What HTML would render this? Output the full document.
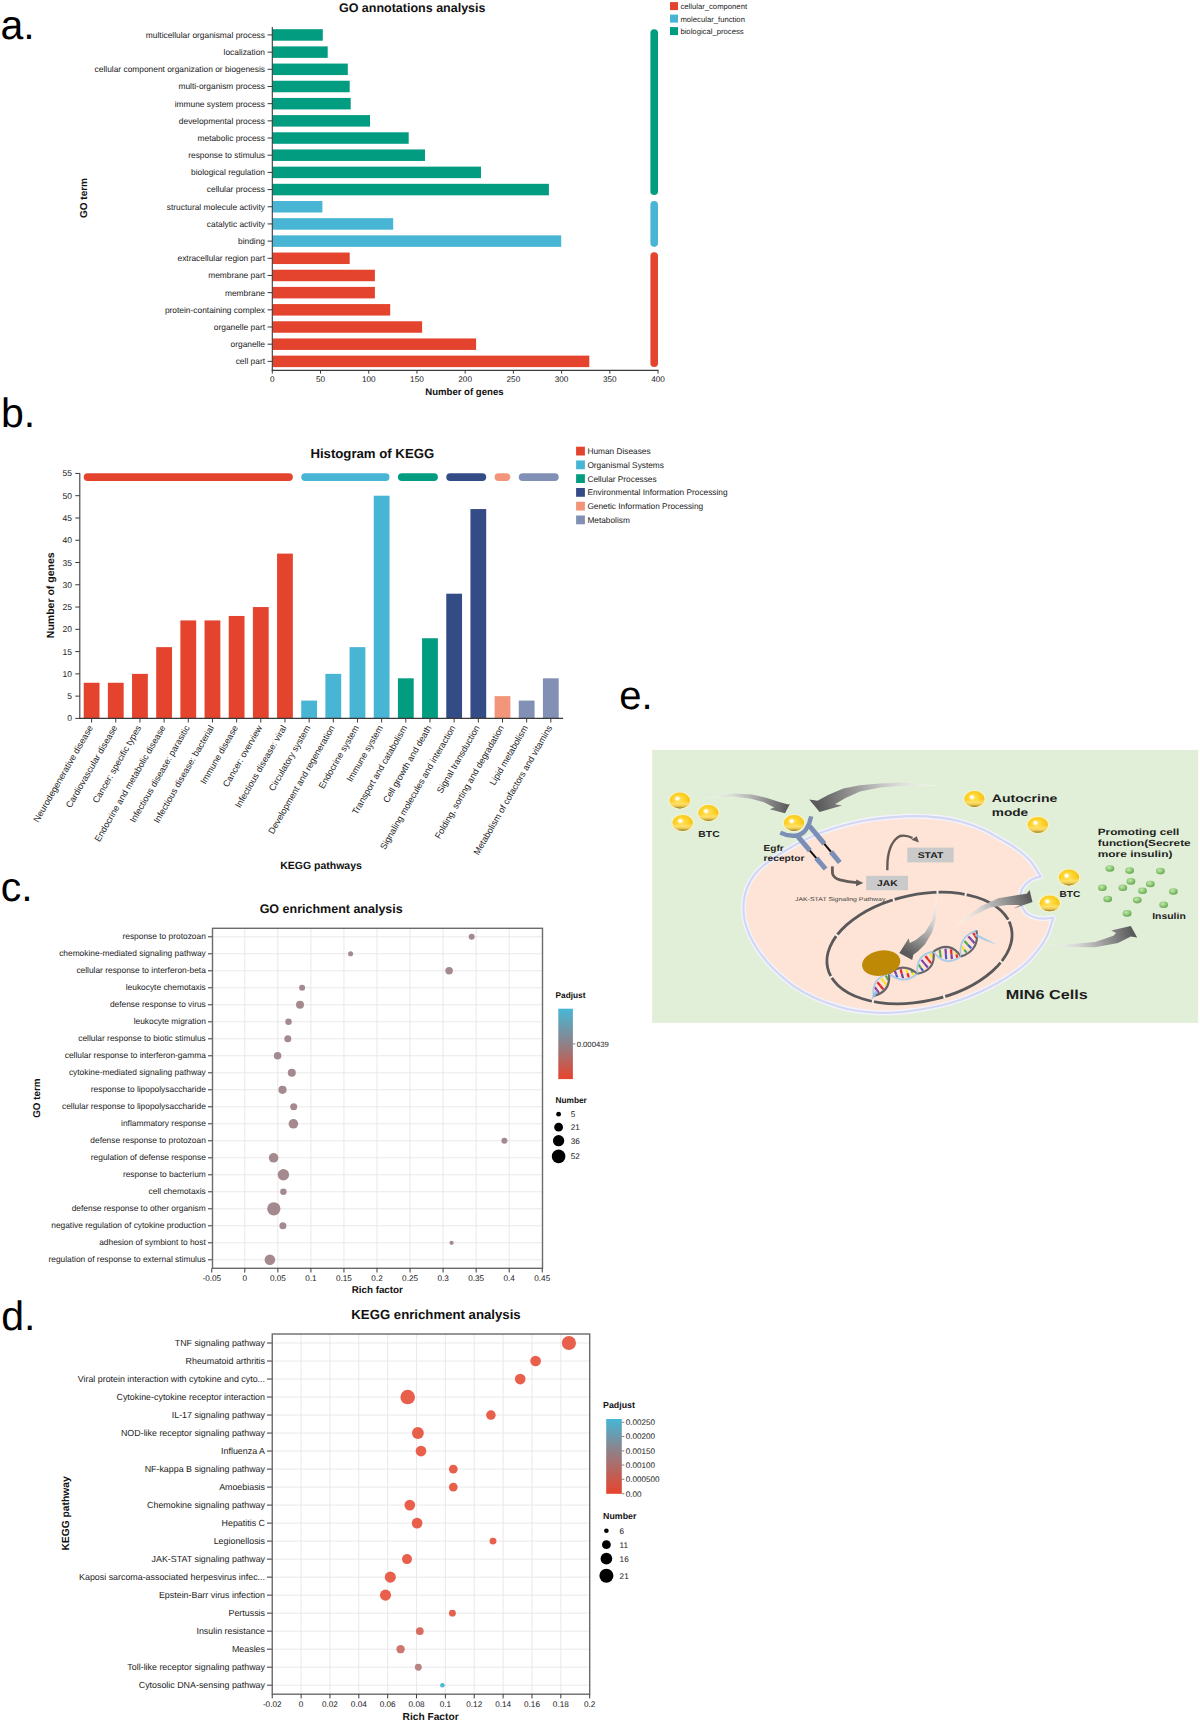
<!DOCTYPE html>
<html><head><meta charset="utf-8"><title>Figure</title>
<style>
html,body{margin:0;padding:0;background:#fff;}
body{width:1200px;height:1723px;overflow:hidden;}
svg{display:block;font-family:"Liberation Sans", sans-serif;text-rendering:geometricPrecision;}
</style></head><body>
<svg width="1200" height="1723" viewBox="0 0 1200 1723">
<rect width="1200" height="1723" fill="#fff"/>
<text x="0.40" y="39.00" font-size="41" fill="#000">a.</text>
<text x="0.90" y="426.60" font-size="41" fill="#000">b.</text>
<text x="0.80" y="901.20" font-size="41" fill="#000">c.</text>
<text x="1.30" y="1329.60" font-size="41" fill="#000">d.</text>
<text x="619.30" y="709.40" font-size="40" fill="#000">e.</text>
<rect x="272.30" y="29.20" width="50.50" height="11.50" fill="#029C80"/>
<line x1="267.60" y1="34.95" x2="272.30" y2="34.95" stroke="#3a3a3a" stroke-width="1"/>
<text x="265.00" y="37.85" font-size="8.4" text-anchor="end" fill="#222">multicellular organismal process</text>
<rect x="272.30" y="46.38" width="55.40" height="11.50" fill="#029C80"/>
<line x1="267.60" y1="52.13" x2="272.30" y2="52.13" stroke="#3a3a3a" stroke-width="1"/>
<text x="265.00" y="55.03" font-size="8.4" text-anchor="end" fill="#222">localization</text>
<rect x="272.30" y="63.56" width="75.50" height="11.50" fill="#029C80"/>
<line x1="267.60" y1="69.31" x2="272.30" y2="69.31" stroke="#3a3a3a" stroke-width="1"/>
<text x="265.00" y="72.21" font-size="8.4" text-anchor="end" fill="#222">cellular component organization or biogenesis</text>
<rect x="272.30" y="80.74" width="77.40" height="11.50" fill="#029C80"/>
<line x1="267.60" y1="86.49" x2="272.30" y2="86.49" stroke="#3a3a3a" stroke-width="1"/>
<text x="265.00" y="89.39" font-size="8.4" text-anchor="end" fill="#222">multi-organism process</text>
<rect x="272.30" y="97.92" width="78.40" height="11.50" fill="#029C80"/>
<line x1="267.60" y1="103.67" x2="272.30" y2="103.67" stroke="#3a3a3a" stroke-width="1"/>
<text x="265.00" y="106.57" font-size="8.4" text-anchor="end" fill="#222">immune system process</text>
<rect x="272.30" y="115.10" width="97.70" height="11.50" fill="#029C80"/>
<line x1="267.60" y1="120.85" x2="272.30" y2="120.85" stroke="#3a3a3a" stroke-width="1"/>
<text x="265.00" y="123.75" font-size="8.4" text-anchor="end" fill="#222">developmental process</text>
<rect x="272.30" y="132.28" width="136.40" height="11.50" fill="#029C80"/>
<line x1="267.60" y1="138.03" x2="272.30" y2="138.03" stroke="#3a3a3a" stroke-width="1"/>
<text x="265.00" y="140.93" font-size="8.4" text-anchor="end" fill="#222">metabolic process</text>
<rect x="272.30" y="149.46" width="152.70" height="11.50" fill="#029C80"/>
<line x1="267.60" y1="155.21" x2="272.30" y2="155.21" stroke="#3a3a3a" stroke-width="1"/>
<text x="265.00" y="158.11" font-size="8.4" text-anchor="end" fill="#222">response to stimulus</text>
<rect x="272.30" y="166.64" width="208.70" height="11.50" fill="#029C80"/>
<line x1="267.60" y1="172.39" x2="272.30" y2="172.39" stroke="#3a3a3a" stroke-width="1"/>
<text x="265.00" y="175.29" font-size="8.4" text-anchor="end" fill="#222">biological regulation</text>
<rect x="272.30" y="183.82" width="276.60" height="11.50" fill="#029C80"/>
<line x1="267.60" y1="189.57" x2="272.30" y2="189.57" stroke="#3a3a3a" stroke-width="1"/>
<text x="265.00" y="192.47" font-size="8.4" text-anchor="end" fill="#222">cellular process</text>
<rect x="272.30" y="201.00" width="50.10" height="11.50" fill="#48B5D5"/>
<line x1="267.60" y1="206.75" x2="272.30" y2="206.75" stroke="#3a3a3a" stroke-width="1"/>
<text x="265.00" y="209.65" font-size="8.4" text-anchor="end" fill="#222">structural molecule activity</text>
<rect x="272.30" y="218.18" width="120.90" height="11.50" fill="#48B5D5"/>
<line x1="267.60" y1="223.93" x2="272.30" y2="223.93" stroke="#3a3a3a" stroke-width="1"/>
<text x="265.00" y="226.83" font-size="8.4" text-anchor="end" fill="#222">catalytic activity</text>
<rect x="272.30" y="235.36" width="288.90" height="11.50" fill="#48B5D5"/>
<line x1="267.60" y1="241.11" x2="272.30" y2="241.11" stroke="#3a3a3a" stroke-width="1"/>
<text x="265.00" y="244.01" font-size="8.4" text-anchor="end" fill="#222">binding</text>
<rect x="272.30" y="252.54" width="77.40" height="11.50" fill="#E4432E"/>
<line x1="267.60" y1="258.29" x2="272.30" y2="258.29" stroke="#3a3a3a" stroke-width="1"/>
<text x="265.00" y="261.19" font-size="8.4" text-anchor="end" fill="#222">extracellular region part</text>
<rect x="272.30" y="269.72" width="102.60" height="11.50" fill="#E4432E"/>
<line x1="267.60" y1="275.47" x2="272.30" y2="275.47" stroke="#3a3a3a" stroke-width="1"/>
<text x="265.00" y="278.37" font-size="8.4" text-anchor="end" fill="#222">membrane part</text>
<rect x="272.30" y="286.90" width="102.60" height="11.50" fill="#E4432E"/>
<line x1="267.60" y1="292.65" x2="272.30" y2="292.65" stroke="#3a3a3a" stroke-width="1"/>
<text x="265.00" y="295.55" font-size="8.4" text-anchor="end" fill="#222">membrane</text>
<rect x="272.30" y="304.08" width="117.90" height="11.50" fill="#E4432E"/>
<line x1="267.60" y1="309.83" x2="272.30" y2="309.83" stroke="#3a3a3a" stroke-width="1"/>
<text x="265.00" y="312.73" font-size="8.4" text-anchor="end" fill="#222">protein-containing complex</text>
<rect x="272.30" y="321.26" width="149.80" height="11.50" fill="#E4432E"/>
<line x1="267.60" y1="327.01" x2="272.30" y2="327.01" stroke="#3a3a3a" stroke-width="1"/>
<text x="265.00" y="329.91" font-size="8.4" text-anchor="end" fill="#222">organelle part</text>
<rect x="272.30" y="338.44" width="203.80" height="11.50" fill="#E4432E"/>
<line x1="267.60" y1="344.19" x2="272.30" y2="344.19" stroke="#3a3a3a" stroke-width="1"/>
<text x="265.00" y="347.09" font-size="8.4" text-anchor="end" fill="#222">organelle</text>
<rect x="272.30" y="355.62" width="317.00" height="11.50" fill="#E4432E"/>
<line x1="267.60" y1="361.37" x2="272.30" y2="361.37" stroke="#3a3a3a" stroke-width="1"/>
<text x="265.00" y="364.27" font-size="8.4" text-anchor="end" fill="#222">cell part</text>
<line x1="272.30" y1="27.00" x2="272.30" y2="370.90" stroke="#3a3a3a" stroke-width="1.1"/>
<line x1="271.80" y1="370.40" x2="658.50" y2="370.40" stroke="#3a3a3a" stroke-width="1.1"/>
<line x1="272.30" y1="370.40" x2="272.30" y2="373.60" stroke="#3a3a3a" stroke-width="1"/>
<text x="272.30" y="382.10" font-size="8.2" text-anchor="middle" fill="#222">0</text>
<line x1="320.51" y1="370.40" x2="320.51" y2="373.60" stroke="#3a3a3a" stroke-width="1"/>
<text x="320.51" y="382.10" font-size="8.2" text-anchor="middle" fill="#222">50</text>
<line x1="368.73" y1="370.40" x2="368.73" y2="373.60" stroke="#3a3a3a" stroke-width="1"/>
<text x="368.73" y="382.10" font-size="8.2" text-anchor="middle" fill="#222">100</text>
<line x1="416.95" y1="370.40" x2="416.95" y2="373.60" stroke="#3a3a3a" stroke-width="1"/>
<text x="416.95" y="382.10" font-size="8.2" text-anchor="middle" fill="#222">150</text>
<line x1="465.16" y1="370.40" x2="465.16" y2="373.60" stroke="#3a3a3a" stroke-width="1"/>
<text x="465.16" y="382.10" font-size="8.2" text-anchor="middle" fill="#222">200</text>
<line x1="513.38" y1="370.40" x2="513.38" y2="373.60" stroke="#3a3a3a" stroke-width="1"/>
<text x="513.38" y="382.10" font-size="8.2" text-anchor="middle" fill="#222">250</text>
<line x1="561.59" y1="370.40" x2="561.59" y2="373.60" stroke="#3a3a3a" stroke-width="1"/>
<text x="561.59" y="382.10" font-size="8.2" text-anchor="middle" fill="#222">300</text>
<line x1="609.81" y1="370.40" x2="609.81" y2="373.60" stroke="#3a3a3a" stroke-width="1"/>
<text x="609.81" y="382.10" font-size="8.2" text-anchor="middle" fill="#222">350</text>
<line x1="658.02" y1="370.40" x2="658.02" y2="373.60" stroke="#3a3a3a" stroke-width="1"/>
<text x="658.02" y="382.10" font-size="8.2" text-anchor="middle" fill="#222">400</text>
<rect x="650.40" y="29.20" width="7.60" height="165.90" fill="#029C80" rx="3.8"/>
<rect x="650.40" y="200.90" width="7.60" height="46.00" fill="#48B5D5" rx="3.8"/>
<rect x="650.40" y="252.20" width="7.60" height="114.80" fill="#E4432E" rx="3.8"/>
<rect x="670.00" y="2.10" width="8.00" height="8.00" fill="#E4432E"/>
<text x="680.40" y="9.00" font-size="7.7" fill="#222">cellular_component</text>
<rect x="670.00" y="14.60" width="8.00" height="8.00" fill="#48B5D5"/>
<text x="680.40" y="21.50" font-size="7.7" fill="#222">molecular_function</text>
<rect x="670.00" y="27.10" width="8.00" height="8.00" fill="#029C80"/>
<text x="680.40" y="34.00" font-size="7.7" fill="#222">biological_process</text>
<text x="412.20" y="12.00" font-size="12.5" text-anchor="middle" font-weight="bold" fill="#111">GO annotations analysis</text>
<text x="87.20" y="198.00" font-size="10.0" text-anchor="middle" font-weight="bold" fill="#111" transform="rotate(-90 87.20 198.00)">GO term</text>
<text x="464.40" y="394.50" font-size="9.6" text-anchor="middle" font-weight="bold" fill="#111">Number of genes</text>
<rect x="83.70" y="682.77" width="15.80" height="35.63" fill="#E4432E"/>
<line x1="91.60" y1="718.40" x2="91.60" y2="722.50" stroke="#3a3a3a" stroke-width="1"/>
<text x="93.30" y="727.60" font-size="9.0" text-anchor="end" fill="#222" transform="rotate(-60 93.30 727.60)">Neurodegenerative disease</text>
<rect x="107.87" y="682.77" width="15.80" height="35.63" fill="#E4432E"/>
<line x1="115.77" y1="718.40" x2="115.77" y2="722.50" stroke="#3a3a3a" stroke-width="1"/>
<text x="117.47" y="727.60" font-size="9.0" text-anchor="end" fill="#222" transform="rotate(-60 117.47 727.60)">Cardiovascular disease</text>
<rect x="132.04" y="673.86" width="15.80" height="44.54" fill="#E4432E"/>
<line x1="139.94" y1="718.40" x2="139.94" y2="722.50" stroke="#3a3a3a" stroke-width="1"/>
<text x="141.64" y="727.60" font-size="9.0" text-anchor="end" fill="#222" transform="rotate(-60 141.64 727.60)">Cancer: specific types</text>
<rect x="156.21" y="647.14" width="15.80" height="71.26" fill="#E4432E"/>
<line x1="164.11" y1="718.40" x2="164.11" y2="722.50" stroke="#3a3a3a" stroke-width="1"/>
<text x="165.81" y="727.60" font-size="9.0" text-anchor="end" fill="#222" transform="rotate(-60 165.81 727.60)">Endocrine and metabolic disease</text>
<rect x="180.38" y="620.41" width="15.80" height="97.99" fill="#E4432E"/>
<line x1="188.28" y1="718.40" x2="188.28" y2="722.50" stroke="#3a3a3a" stroke-width="1"/>
<text x="189.98" y="727.60" font-size="9.0" text-anchor="end" fill="#222" transform="rotate(-60 189.98 727.60)">Infectious disease: parasitic</text>
<rect x="204.55" y="620.41" width="15.80" height="97.99" fill="#E4432E"/>
<line x1="212.45" y1="718.40" x2="212.45" y2="722.50" stroke="#3a3a3a" stroke-width="1"/>
<text x="214.15" y="727.60" font-size="9.0" text-anchor="end" fill="#222" transform="rotate(-60 214.15 727.60)">Infectious disease: bacterial</text>
<rect x="228.72" y="615.96" width="15.80" height="102.44" fill="#E4432E"/>
<line x1="236.62" y1="718.40" x2="236.62" y2="722.50" stroke="#3a3a3a" stroke-width="1"/>
<text x="238.32" y="727.60" font-size="9.0" text-anchor="end" fill="#222" transform="rotate(-60 238.32 727.60)">Immune disease</text>
<rect x="252.89" y="607.05" width="15.80" height="111.35" fill="#E4432E"/>
<line x1="260.79" y1="718.40" x2="260.79" y2="722.50" stroke="#3a3a3a" stroke-width="1"/>
<text x="262.49" y="727.60" font-size="9.0" text-anchor="end" fill="#222" transform="rotate(-60 262.49 727.60)">Cancer: overview</text>
<rect x="277.06" y="553.60" width="15.80" height="164.80" fill="#E4432E"/>
<line x1="284.96" y1="718.40" x2="284.96" y2="722.50" stroke="#3a3a3a" stroke-width="1"/>
<text x="286.66" y="727.60" font-size="9.0" text-anchor="end" fill="#222" transform="rotate(-60 286.66 727.60)">Infectious disease: viral</text>
<rect x="301.23" y="700.58" width="15.80" height="17.82" fill="#48B5D5"/>
<line x1="309.13" y1="718.40" x2="309.13" y2="722.50" stroke="#3a3a3a" stroke-width="1"/>
<text x="310.83" y="727.60" font-size="9.0" text-anchor="end" fill="#222" transform="rotate(-60 310.83 727.60)">Circulatory system</text>
<rect x="325.40" y="673.86" width="15.80" height="44.54" fill="#48B5D5"/>
<line x1="333.30" y1="718.40" x2="333.30" y2="722.50" stroke="#3a3a3a" stroke-width="1"/>
<text x="335.00" y="727.60" font-size="9.0" text-anchor="end" fill="#222" transform="rotate(-60 335.00 727.60)">Development and regeneration</text>
<rect x="349.57" y="647.14" width="15.80" height="71.26" fill="#48B5D5"/>
<line x1="357.47" y1="718.40" x2="357.47" y2="722.50" stroke="#3a3a3a" stroke-width="1"/>
<text x="359.17" y="727.60" font-size="9.0" text-anchor="end" fill="#222" transform="rotate(-60 359.17 727.60)">Endocrine system</text>
<rect x="373.74" y="495.70" width="15.80" height="222.70" fill="#48B5D5"/>
<line x1="381.64" y1="718.40" x2="381.64" y2="722.50" stroke="#3a3a3a" stroke-width="1"/>
<text x="383.34" y="727.60" font-size="9.0" text-anchor="end" fill="#222" transform="rotate(-60 383.34 727.60)">Immune system</text>
<rect x="397.91" y="678.31" width="15.80" height="40.09" fill="#029C80"/>
<line x1="405.81" y1="718.40" x2="405.81" y2="722.50" stroke="#3a3a3a" stroke-width="1"/>
<text x="407.51" y="727.60" font-size="9.0" text-anchor="end" fill="#222" transform="rotate(-60 407.51 727.60)">Transport and catabolism</text>
<rect x="422.08" y="638.23" width="15.80" height="80.17" fill="#029C80"/>
<line x1="429.98" y1="718.40" x2="429.98" y2="722.50" stroke="#3a3a3a" stroke-width="1"/>
<text x="431.68" y="727.60" font-size="9.0" text-anchor="end" fill="#222" transform="rotate(-60 431.68 727.60)">Cell growth and death</text>
<rect x="446.25" y="593.69" width="15.80" height="124.71" fill="#344C86"/>
<line x1="454.15" y1="718.40" x2="454.15" y2="722.50" stroke="#3a3a3a" stroke-width="1"/>
<text x="455.85" y="727.60" font-size="9.0" text-anchor="end" fill="#222" transform="rotate(-60 455.85 727.60)">Signaling molecules and interaction</text>
<rect x="470.42" y="509.06" width="15.80" height="209.34" fill="#344C86"/>
<line x1="478.32" y1="718.40" x2="478.32" y2="722.50" stroke="#3a3a3a" stroke-width="1"/>
<text x="480.02" y="727.60" font-size="9.0" text-anchor="end" fill="#222" transform="rotate(-60 480.02 727.60)">Signal transduction</text>
<rect x="494.59" y="696.13" width="15.80" height="22.27" fill="#F2957A"/>
<line x1="502.49" y1="718.40" x2="502.49" y2="722.50" stroke="#3a3a3a" stroke-width="1"/>
<text x="504.19" y="727.60" font-size="9.0" text-anchor="end" fill="#222" transform="rotate(-60 504.19 727.60)">Folding, sorting and degradation</text>
<rect x="518.76" y="700.58" width="15.80" height="17.82" fill="#8190B4"/>
<line x1="526.66" y1="718.40" x2="526.66" y2="722.50" stroke="#3a3a3a" stroke-width="1"/>
<text x="528.36" y="727.60" font-size="9.0" text-anchor="end" fill="#222" transform="rotate(-60 528.36 727.60)">Lipid metabolism</text>
<rect x="542.93" y="678.31" width="15.80" height="40.09" fill="#8190B4"/>
<line x1="550.83" y1="718.40" x2="550.83" y2="722.50" stroke="#3a3a3a" stroke-width="1"/>
<text x="552.53" y="727.60" font-size="9.0" text-anchor="end" fill="#222" transform="rotate(-60 552.53 727.60)">Metabolism of cofactors and vitamins</text>
<line x1="79.80" y1="473.30" x2="79.80" y2="718.90" stroke="#3a3a3a" stroke-width="1.1"/>
<line x1="79.30" y1="718.40" x2="563.10" y2="718.40" stroke="#3a3a3a" stroke-width="1.1"/>
<line x1="75.30" y1="718.40" x2="79.80" y2="718.40" stroke="#3a3a3a" stroke-width="1"/>
<text x="72.00" y="721.40" font-size="8.5" text-anchor="end" fill="#222">0</text>
<line x1="75.30" y1="696.13" x2="79.80" y2="696.13" stroke="#3a3a3a" stroke-width="1"/>
<text x="72.00" y="699.13" font-size="8.5" text-anchor="end" fill="#222">5</text>
<line x1="75.30" y1="673.86" x2="79.80" y2="673.86" stroke="#3a3a3a" stroke-width="1"/>
<text x="72.00" y="676.86" font-size="8.5" text-anchor="end" fill="#222">10</text>
<line x1="75.30" y1="651.59" x2="79.80" y2="651.59" stroke="#3a3a3a" stroke-width="1"/>
<text x="72.00" y="654.59" font-size="8.5" text-anchor="end" fill="#222">15</text>
<line x1="75.30" y1="629.32" x2="79.80" y2="629.32" stroke="#3a3a3a" stroke-width="1"/>
<text x="72.00" y="632.32" font-size="8.5" text-anchor="end" fill="#222">20</text>
<line x1="75.30" y1="607.05" x2="79.80" y2="607.05" stroke="#3a3a3a" stroke-width="1"/>
<text x="72.00" y="610.05" font-size="8.5" text-anchor="end" fill="#222">25</text>
<line x1="75.30" y1="584.78" x2="79.80" y2="584.78" stroke="#3a3a3a" stroke-width="1"/>
<text x="72.00" y="587.78" font-size="8.5" text-anchor="end" fill="#222">30</text>
<line x1="75.30" y1="562.51" x2="79.80" y2="562.51" stroke="#3a3a3a" stroke-width="1"/>
<text x="72.00" y="565.51" font-size="8.5" text-anchor="end" fill="#222">35</text>
<line x1="75.30" y1="540.24" x2="79.80" y2="540.24" stroke="#3a3a3a" stroke-width="1"/>
<text x="72.00" y="543.24" font-size="8.5" text-anchor="end" fill="#222">40</text>
<line x1="75.30" y1="517.97" x2="79.80" y2="517.97" stroke="#3a3a3a" stroke-width="1"/>
<text x="72.00" y="520.97" font-size="8.5" text-anchor="end" fill="#222">45</text>
<line x1="75.30" y1="495.70" x2="79.80" y2="495.70" stroke="#3a3a3a" stroke-width="1"/>
<text x="72.00" y="498.70" font-size="8.5" text-anchor="end" fill="#222">50</text>
<line x1="75.30" y1="473.43" x2="79.80" y2="473.43" stroke="#3a3a3a" stroke-width="1"/>
<text x="72.00" y="476.43" font-size="8.5" text-anchor="end" fill="#222">55</text>
<rect x="83.70" y="473.20" width="209.16" height="7.80" fill="#E4432E" rx="3.9"/>
<rect x="301.23" y="473.20" width="88.31" height="7.80" fill="#48B5D5" rx="3.9"/>
<rect x="397.91" y="473.20" width="39.97" height="7.80" fill="#029C80" rx="3.9"/>
<rect x="446.25" y="473.20" width="39.97" height="7.80" fill="#344C86" rx="3.9"/>
<rect x="494.59" y="473.20" width="15.80" height="7.80" fill="#F2957A" rx="3.9"/>
<rect x="518.76" y="473.20" width="39.97" height="7.80" fill="#8190B4" rx="3.9"/>
<rect x="576.10" y="446.70" width="8.80" height="8.80" fill="#E4432E"/>
<text x="587.40" y="454.00" font-size="8.3" fill="#222">Human Diseases</text>
<rect x="576.10" y="460.46" width="8.80" height="8.80" fill="#48B5D5"/>
<text x="587.40" y="467.76" font-size="8.3" fill="#222">Organismal Systems</text>
<rect x="576.10" y="474.22" width="8.80" height="8.80" fill="#029C80"/>
<text x="587.40" y="481.52" font-size="8.3" fill="#222">Cellular Processes</text>
<rect x="576.10" y="487.98" width="8.80" height="8.80" fill="#344C86"/>
<text x="587.40" y="495.28" font-size="8.3" fill="#222">Environmental Information Processing</text>
<rect x="576.10" y="501.74" width="8.80" height="8.80" fill="#F2957A"/>
<text x="587.40" y="509.04" font-size="8.3" fill="#222">Genetic Information Processing</text>
<rect x="576.10" y="515.50" width="8.80" height="8.80" fill="#8190B4"/>
<text x="587.40" y="522.80" font-size="8.3" fill="#222">Metabolism</text>
<text x="372.30" y="457.50" font-size="13.2" text-anchor="middle" font-weight="bold" fill="#111">Histogram of KEGG</text>
<text x="54.40" y="595.30" font-size="10.5" text-anchor="middle" font-weight="bold" fill="#111" transform="rotate(-90 54.40 595.30)">Number of genes</text>
<text x="321.00" y="869.30" font-size="10.5" text-anchor="middle" font-weight="bold" fill="#111">KEGG pathways</text>
<line x1="244.80" y1="928.30" x2="244.80" y2="1268.30" stroke="#E6E6E6" stroke-width="0.9"/>
<line x1="277.85" y1="928.30" x2="277.85" y2="1268.30" stroke="#E6E6E6" stroke-width="0.9"/>
<line x1="310.90" y1="928.30" x2="310.90" y2="1268.30" stroke="#E6E6E6" stroke-width="0.9"/>
<line x1="343.95" y1="928.30" x2="343.95" y2="1268.30" stroke="#E6E6E6" stroke-width="0.9"/>
<line x1="377.00" y1="928.30" x2="377.00" y2="1268.30" stroke="#E6E6E6" stroke-width="0.9"/>
<line x1="410.05" y1="928.30" x2="410.05" y2="1268.30" stroke="#E6E6E6" stroke-width="0.9"/>
<line x1="443.10" y1="928.30" x2="443.10" y2="1268.30" stroke="#E6E6E6" stroke-width="0.9"/>
<line x1="476.15" y1="928.30" x2="476.15" y2="1268.30" stroke="#E6E6E6" stroke-width="0.9"/>
<line x1="509.20" y1="928.30" x2="509.20" y2="1268.30" stroke="#E6E6E6" stroke-width="0.9"/>
<line x1="212.50" y1="936.80" x2="542.50" y2="936.80" stroke="#E6E6E6" stroke-width="0.9"/>
<line x1="212.50" y1="953.80" x2="542.50" y2="953.80" stroke="#E6E6E6" stroke-width="0.9"/>
<line x1="212.50" y1="970.80" x2="542.50" y2="970.80" stroke="#E6E6E6" stroke-width="0.9"/>
<line x1="212.50" y1="987.80" x2="542.50" y2="987.80" stroke="#E6E6E6" stroke-width="0.9"/>
<line x1="212.50" y1="1004.80" x2="542.50" y2="1004.80" stroke="#E6E6E6" stroke-width="0.9"/>
<line x1="212.50" y1="1021.80" x2="542.50" y2="1021.80" stroke="#E6E6E6" stroke-width="0.9"/>
<line x1="212.50" y1="1038.80" x2="542.50" y2="1038.80" stroke="#E6E6E6" stroke-width="0.9"/>
<line x1="212.50" y1="1055.80" x2="542.50" y2="1055.80" stroke="#E6E6E6" stroke-width="0.9"/>
<line x1="212.50" y1="1072.80" x2="542.50" y2="1072.80" stroke="#E6E6E6" stroke-width="0.9"/>
<line x1="212.50" y1="1089.80" x2="542.50" y2="1089.80" stroke="#E6E6E6" stroke-width="0.9"/>
<line x1="212.50" y1="1106.80" x2="542.50" y2="1106.80" stroke="#E6E6E6" stroke-width="0.9"/>
<line x1="212.50" y1="1123.80" x2="542.50" y2="1123.80" stroke="#E6E6E6" stroke-width="0.9"/>
<line x1="212.50" y1="1140.80" x2="542.50" y2="1140.80" stroke="#E6E6E6" stroke-width="0.9"/>
<line x1="212.50" y1="1157.80" x2="542.50" y2="1157.80" stroke="#E6E6E6" stroke-width="0.9"/>
<line x1="212.50" y1="1174.80" x2="542.50" y2="1174.80" stroke="#E6E6E6" stroke-width="0.9"/>
<line x1="212.50" y1="1191.80" x2="542.50" y2="1191.80" stroke="#E6E6E6" stroke-width="0.9"/>
<line x1="212.50" y1="1208.80" x2="542.50" y2="1208.80" stroke="#E6E6E6" stroke-width="0.9"/>
<line x1="212.50" y1="1225.80" x2="542.50" y2="1225.80" stroke="#E6E6E6" stroke-width="0.9"/>
<line x1="212.50" y1="1242.80" x2="542.50" y2="1242.80" stroke="#E6E6E6" stroke-width="0.9"/>
<line x1="212.50" y1="1259.80" x2="542.50" y2="1259.80" stroke="#E6E6E6" stroke-width="0.9"/>
<circle cx="471.70" cy="936.80" r="3.00" fill="#A48A8E"/>
<line x1="208.00" y1="936.80" x2="212.50" y2="936.80" stroke="#3a3a3a" stroke-width="1"/>
<text x="205.80" y="939.30" font-size="8.4" text-anchor="end" fill="#222">response to protozoan</text>
<circle cx="350.60" cy="953.80" r="2.55" fill="#A48A8E"/>
<line x1="208.00" y1="953.80" x2="212.50" y2="953.80" stroke="#3a3a3a" stroke-width="1"/>
<text x="205.80" y="956.30" font-size="8.4" text-anchor="end" fill="#222">chemokine-mediated signaling pathway</text>
<circle cx="449.10" cy="970.80" r="3.75" fill="#A48A8E"/>
<line x1="208.00" y1="970.80" x2="212.50" y2="970.80" stroke="#3a3a3a" stroke-width="1"/>
<text x="205.80" y="973.30" font-size="8.4" text-anchor="end" fill="#222">cellular response to interferon-beta</text>
<circle cx="302.10" cy="987.80" r="3.00" fill="#A48A8E"/>
<line x1="208.00" y1="987.80" x2="212.50" y2="987.80" stroke="#3a3a3a" stroke-width="1"/>
<text x="205.80" y="990.30" font-size="8.4" text-anchor="end" fill="#222">leukocyte chemotaxis</text>
<circle cx="300.00" cy="1004.80" r="4.00" fill="#A48A8E"/>
<line x1="208.00" y1="1004.80" x2="212.50" y2="1004.80" stroke="#3a3a3a" stroke-width="1"/>
<text x="205.80" y="1007.30" font-size="8.4" text-anchor="end" fill="#222">defense response to virus</text>
<circle cx="288.50" cy="1021.80" r="3.25" fill="#A48A8E"/>
<line x1="208.00" y1="1021.80" x2="212.50" y2="1021.80" stroke="#3a3a3a" stroke-width="1"/>
<text x="205.80" y="1024.30" font-size="8.4" text-anchor="end" fill="#222">leukocyte migration</text>
<circle cx="287.80" cy="1038.80" r="3.50" fill="#A48A8E"/>
<line x1="208.00" y1="1038.80" x2="212.50" y2="1038.80" stroke="#3a3a3a" stroke-width="1"/>
<text x="205.80" y="1041.30" font-size="8.4" text-anchor="end" fill="#222">cellular response to biotic stimulus</text>
<circle cx="277.60" cy="1055.80" r="3.75" fill="#A48A8E"/>
<line x1="208.00" y1="1055.80" x2="212.50" y2="1055.80" stroke="#3a3a3a" stroke-width="1"/>
<text x="205.80" y="1058.30" font-size="8.4" text-anchor="end" fill="#222">cellular response to interferon-gamma</text>
<circle cx="291.80" cy="1072.80" r="4.00" fill="#A48A8E"/>
<line x1="208.00" y1="1072.80" x2="212.50" y2="1072.80" stroke="#3a3a3a" stroke-width="1"/>
<text x="205.80" y="1075.30" font-size="8.4" text-anchor="end" fill="#222">cytokine-mediated signaling pathway</text>
<circle cx="282.50" cy="1089.80" r="4.10" fill="#A48A8E"/>
<line x1="208.00" y1="1089.80" x2="212.50" y2="1089.80" stroke="#3a3a3a" stroke-width="1"/>
<text x="205.80" y="1092.30" font-size="8.4" text-anchor="end" fill="#222">response to lipopolysaccharide</text>
<circle cx="293.70" cy="1106.80" r="3.50" fill="#A48A8E"/>
<line x1="208.00" y1="1106.80" x2="212.50" y2="1106.80" stroke="#3a3a3a" stroke-width="1"/>
<text x="205.80" y="1109.30" font-size="8.4" text-anchor="end" fill="#222">cellular response to lipopolysaccharide</text>
<circle cx="293.40" cy="1123.80" r="4.80" fill="#A48A8E"/>
<line x1="208.00" y1="1123.80" x2="212.50" y2="1123.80" stroke="#3a3a3a" stroke-width="1"/>
<text x="205.80" y="1126.30" font-size="8.4" text-anchor="end" fill="#222">inflammatory response</text>
<circle cx="504.40" cy="1140.80" r="3.00" fill="#A48A8E"/>
<line x1="208.00" y1="1140.80" x2="212.50" y2="1140.80" stroke="#3a3a3a" stroke-width="1"/>
<text x="205.80" y="1143.30" font-size="8.4" text-anchor="end" fill="#222">defense response to protozoan</text>
<circle cx="273.60" cy="1157.80" r="4.80" fill="#A48A8E"/>
<line x1="208.00" y1="1157.80" x2="212.50" y2="1157.80" stroke="#3a3a3a" stroke-width="1"/>
<text x="205.80" y="1160.30" font-size="8.4" text-anchor="end" fill="#222">regulation of defense response</text>
<circle cx="283.40" cy="1174.80" r="5.70" fill="#A48A8E"/>
<line x1="208.00" y1="1174.80" x2="212.50" y2="1174.80" stroke="#3a3a3a" stroke-width="1"/>
<text x="205.80" y="1177.30" font-size="8.4" text-anchor="end" fill="#222">response to bacterium</text>
<circle cx="283.40" cy="1191.80" r="3.25" fill="#A48A8E"/>
<line x1="208.00" y1="1191.80" x2="212.50" y2="1191.80" stroke="#3a3a3a" stroke-width="1"/>
<text x="205.80" y="1194.30" font-size="8.4" text-anchor="end" fill="#222">cell chemotaxis</text>
<circle cx="273.80" cy="1208.80" r="6.65" fill="#A48A8E"/>
<line x1="208.00" y1="1208.80" x2="212.50" y2="1208.80" stroke="#3a3a3a" stroke-width="1"/>
<text x="205.80" y="1211.30" font-size="8.4" text-anchor="end" fill="#222">defense response to other organism</text>
<circle cx="282.90" cy="1225.80" r="3.50" fill="#A48A8E"/>
<line x1="208.00" y1="1225.80" x2="212.50" y2="1225.80" stroke="#3a3a3a" stroke-width="1"/>
<text x="205.80" y="1228.30" font-size="8.4" text-anchor="end" fill="#222">negative regulation of cytokine production</text>
<circle cx="451.60" cy="1242.80" r="2.10" fill="#A48A8E"/>
<line x1="208.00" y1="1242.80" x2="212.50" y2="1242.80" stroke="#3a3a3a" stroke-width="1"/>
<text x="205.80" y="1245.30" font-size="8.4" text-anchor="end" fill="#222">adhesion of symbiont to host</text>
<circle cx="269.90" cy="1259.80" r="5.30" fill="#A48A8E"/>
<line x1="208.00" y1="1259.80" x2="212.50" y2="1259.80" stroke="#3a3a3a" stroke-width="1"/>
<text x="205.80" y="1262.30" font-size="8.4" text-anchor="end" fill="#222">regulation of response to external stimulus</text>
<rect x="212.5" y="928.3" width="330.0" height="340.0" fill="none" stroke="#6b6b6b" stroke-width="1.4"/>
<line x1="211.75" y1="1268.30" x2="211.75" y2="1272.50" stroke="#3a3a3a" stroke-width="1"/>
<text x="211.75" y="1280.60" font-size="8.2" text-anchor="middle" fill="#222">-0.05</text>
<line x1="244.80" y1="1268.30" x2="244.80" y2="1272.50" stroke="#3a3a3a" stroke-width="1"/>
<text x="244.80" y="1280.60" font-size="8.2" text-anchor="middle" fill="#222">0</text>
<line x1="277.85" y1="1268.30" x2="277.85" y2="1272.50" stroke="#3a3a3a" stroke-width="1"/>
<text x="277.85" y="1280.60" font-size="8.2" text-anchor="middle" fill="#222">0.05</text>
<line x1="310.90" y1="1268.30" x2="310.90" y2="1272.50" stroke="#3a3a3a" stroke-width="1"/>
<text x="310.90" y="1280.60" font-size="8.2" text-anchor="middle" fill="#222">0.1</text>
<line x1="343.95" y1="1268.30" x2="343.95" y2="1272.50" stroke="#3a3a3a" stroke-width="1"/>
<text x="343.95" y="1280.60" font-size="8.2" text-anchor="middle" fill="#222">0.15</text>
<line x1="377.00" y1="1268.30" x2="377.00" y2="1272.50" stroke="#3a3a3a" stroke-width="1"/>
<text x="377.00" y="1280.60" font-size="8.2" text-anchor="middle" fill="#222">0.2</text>
<line x1="410.05" y1="1268.30" x2="410.05" y2="1272.50" stroke="#3a3a3a" stroke-width="1"/>
<text x="410.05" y="1280.60" font-size="8.2" text-anchor="middle" fill="#222">0.25</text>
<line x1="443.10" y1="1268.30" x2="443.10" y2="1272.50" stroke="#3a3a3a" stroke-width="1"/>
<text x="443.10" y="1280.60" font-size="8.2" text-anchor="middle" fill="#222">0.3</text>
<line x1="476.15" y1="1268.30" x2="476.15" y2="1272.50" stroke="#3a3a3a" stroke-width="1"/>
<text x="476.15" y="1280.60" font-size="8.2" text-anchor="middle" fill="#222">0.35</text>
<line x1="509.20" y1="1268.30" x2="509.20" y2="1272.50" stroke="#3a3a3a" stroke-width="1"/>
<text x="509.20" y="1280.60" font-size="8.2" text-anchor="middle" fill="#222">0.4</text>
<line x1="542.25" y1="1268.30" x2="542.25" y2="1272.50" stroke="#3a3a3a" stroke-width="1"/>
<text x="542.25" y="1280.60" font-size="8.2" text-anchor="middle" fill="#222">0.45</text>
<text x="331.20" y="913.40" font-size="12.5" text-anchor="middle" font-weight="bold" fill="#111">GO enrichment analysis</text>
<text x="40.20" y="1098.10" font-size="9.9" text-anchor="middle" font-weight="bold" fill="#111" transform="rotate(-90 40.20 1098.10)">GO term</text>
<text x="377.30" y="1292.60" font-size="9.8" text-anchor="middle" font-weight="bold" fill="#111">Rich factor</text>
<text x="555.50" y="998.30" font-size="8.3" font-weight="bold" fill="#111">Padjust</text>
<defs><linearGradient id="cbar" x1="0" y1="0" x2="0" y2="1"><stop offset="0" stop-color="#46B6D6"/><stop offset="0.5" stop-color="#8E8189"/><stop offset="1" stop-color="#E8432C"/></linearGradient></defs>
<rect x="558.30" y="1008.70" width="14.60" height="70.40" fill="url(#cbar)"/>
<line x1="572.90" y1="1043.90" x2="575.40" y2="1043.90" stroke="#666" stroke-width="0.8"/>
<text x="576.70" y="1046.70" font-size="7.7" fill="#222">0.000439</text>
<text x="555.50" y="1103.10" font-size="8.3" font-weight="bold" fill="#111">Number</text>
<circle cx="558.60" cy="1114.20" r="2.40" fill="#000"/>
<text x="570.80" y="1117.20" font-size="8.2" fill="#222">5</text>
<circle cx="558.60" cy="1127.20" r="4.40" fill="#000"/>
<text x="570.80" y="1130.20" font-size="8.2" fill="#222">21</text>
<circle cx="558.60" cy="1140.70" r="5.65" fill="#000"/>
<text x="570.80" y="1143.70" font-size="8.2" fill="#222">36</text>
<circle cx="558.60" cy="1156.40" r="6.80" fill="#000"/>
<text x="570.80" y="1159.40" font-size="8.2" fill="#222">52</text>
<line x1="301.10" y1="1334.00" x2="301.10" y2="1694.20" stroke="#E6E6E6" stroke-width="0.9"/>
<line x1="329.96" y1="1334.00" x2="329.96" y2="1694.20" stroke="#E6E6E6" stroke-width="0.9"/>
<line x1="358.82" y1="1334.00" x2="358.82" y2="1694.20" stroke="#E6E6E6" stroke-width="0.9"/>
<line x1="387.68" y1="1334.00" x2="387.68" y2="1694.20" stroke="#E6E6E6" stroke-width="0.9"/>
<line x1="416.54" y1="1334.00" x2="416.54" y2="1694.20" stroke="#E6E6E6" stroke-width="0.9"/>
<line x1="445.40" y1="1334.00" x2="445.40" y2="1694.20" stroke="#E6E6E6" stroke-width="0.9"/>
<line x1="474.26" y1="1334.00" x2="474.26" y2="1694.20" stroke="#E6E6E6" stroke-width="0.9"/>
<line x1="503.12" y1="1334.00" x2="503.12" y2="1694.20" stroke="#E6E6E6" stroke-width="0.9"/>
<line x1="531.98" y1="1334.00" x2="531.98" y2="1694.20" stroke="#E6E6E6" stroke-width="0.9"/>
<line x1="560.84" y1="1334.00" x2="560.84" y2="1694.20" stroke="#E6E6E6" stroke-width="0.9"/>
<line x1="272.25" y1="1343.01" x2="589.70" y2="1343.01" stroke="#E6E6E6" stroke-width="0.9"/>
<line x1="272.25" y1="1361.02" x2="589.70" y2="1361.02" stroke="#E6E6E6" stroke-width="0.9"/>
<line x1="272.25" y1="1379.03" x2="589.70" y2="1379.03" stroke="#E6E6E6" stroke-width="0.9"/>
<line x1="272.25" y1="1397.04" x2="589.70" y2="1397.04" stroke="#E6E6E6" stroke-width="0.9"/>
<line x1="272.25" y1="1415.05" x2="589.70" y2="1415.05" stroke="#E6E6E6" stroke-width="0.9"/>
<line x1="272.25" y1="1433.06" x2="589.70" y2="1433.06" stroke="#E6E6E6" stroke-width="0.9"/>
<line x1="272.25" y1="1451.07" x2="589.70" y2="1451.07" stroke="#E6E6E6" stroke-width="0.9"/>
<line x1="272.25" y1="1469.08" x2="589.70" y2="1469.08" stroke="#E6E6E6" stroke-width="0.9"/>
<line x1="272.25" y1="1487.09" x2="589.70" y2="1487.09" stroke="#E6E6E6" stroke-width="0.9"/>
<line x1="272.25" y1="1505.10" x2="589.70" y2="1505.10" stroke="#E6E6E6" stroke-width="0.9"/>
<line x1="272.25" y1="1523.11" x2="589.70" y2="1523.11" stroke="#E6E6E6" stroke-width="0.9"/>
<line x1="272.25" y1="1541.12" x2="589.70" y2="1541.12" stroke="#E6E6E6" stroke-width="0.9"/>
<line x1="272.25" y1="1559.12" x2="589.70" y2="1559.12" stroke="#E6E6E6" stroke-width="0.9"/>
<line x1="272.25" y1="1577.13" x2="589.70" y2="1577.13" stroke="#E6E6E6" stroke-width="0.9"/>
<line x1="272.25" y1="1595.14" x2="589.70" y2="1595.14" stroke="#E6E6E6" stroke-width="0.9"/>
<line x1="272.25" y1="1613.15" x2="589.70" y2="1613.15" stroke="#E6E6E6" stroke-width="0.9"/>
<line x1="272.25" y1="1631.16" x2="589.70" y2="1631.16" stroke="#E6E6E6" stroke-width="0.9"/>
<line x1="272.25" y1="1649.17" x2="589.70" y2="1649.17" stroke="#E6E6E6" stroke-width="0.9"/>
<line x1="272.25" y1="1667.18" x2="589.70" y2="1667.18" stroke="#E6E6E6" stroke-width="0.9"/>
<line x1="272.25" y1="1685.20" x2="589.70" y2="1685.20" stroke="#E6E6E6" stroke-width="0.9"/>
<circle cx="568.90" cy="1343.01" r="7.10" fill="#E8604C"/>
<line x1="267.00" y1="1343.01" x2="272.25" y2="1343.01" stroke="#3a3a3a" stroke-width="1"/>
<text x="265.00" y="1346.11" font-size="8.9" text-anchor="end" fill="#222">TNF signaling pathway</text>
<circle cx="535.60" cy="1361.02" r="5.35" fill="#E8604C"/>
<line x1="267.00" y1="1361.02" x2="272.25" y2="1361.02" stroke="#3a3a3a" stroke-width="1"/>
<text x="265.00" y="1364.12" font-size="8.9" text-anchor="end" fill="#222">Rheumatoid arthritis</text>
<circle cx="520.20" cy="1379.03" r="5.35" fill="#E8604C"/>
<line x1="267.00" y1="1379.03" x2="272.25" y2="1379.03" stroke="#3a3a3a" stroke-width="1"/>
<text x="265.00" y="1382.12" font-size="8.9" text-anchor="end" fill="#222">Viral protein interaction with cytokine and cyto...</text>
<circle cx="407.70" cy="1397.04" r="7.30" fill="#E8604C"/>
<line x1="267.00" y1="1397.04" x2="272.25" y2="1397.04" stroke="#3a3a3a" stroke-width="1"/>
<text x="265.00" y="1400.13" font-size="8.9" text-anchor="end" fill="#222">Cytokine-cytokine receptor interaction</text>
<circle cx="490.90" cy="1415.05" r="4.80" fill="#E8604C"/>
<line x1="267.00" y1="1415.05" x2="272.25" y2="1415.05" stroke="#3a3a3a" stroke-width="1"/>
<text x="265.00" y="1418.14" font-size="8.9" text-anchor="end" fill="#222">IL-17 signaling pathway</text>
<circle cx="417.90" cy="1433.06" r="5.95" fill="#E8604C"/>
<line x1="267.00" y1="1433.06" x2="272.25" y2="1433.06" stroke="#3a3a3a" stroke-width="1"/>
<text x="265.00" y="1436.15" font-size="8.9" text-anchor="end" fill="#222">NOD-like receptor signaling pathway</text>
<circle cx="421.00" cy="1451.07" r="5.35" fill="#E8604C"/>
<line x1="267.00" y1="1451.07" x2="272.25" y2="1451.07" stroke="#3a3a3a" stroke-width="1"/>
<text x="265.00" y="1454.16" font-size="8.9" text-anchor="end" fill="#222">Influenza A</text>
<circle cx="453.30" cy="1469.08" r="4.40" fill="#E8604C"/>
<line x1="267.00" y1="1469.08" x2="272.25" y2="1469.08" stroke="#3a3a3a" stroke-width="1"/>
<text x="265.00" y="1472.17" font-size="8.9" text-anchor="end" fill="#222">NF-kappa B signaling pathway</text>
<circle cx="453.30" cy="1487.09" r="4.40" fill="#E8604C"/>
<line x1="267.00" y1="1487.09" x2="272.25" y2="1487.09" stroke="#3a3a3a" stroke-width="1"/>
<text x="265.00" y="1490.18" font-size="8.9" text-anchor="end" fill="#222">Amoebiasis</text>
<circle cx="409.80" cy="1505.10" r="5.35" fill="#E8604C"/>
<line x1="267.00" y1="1505.10" x2="272.25" y2="1505.10" stroke="#3a3a3a" stroke-width="1"/>
<text x="265.00" y="1508.19" font-size="8.9" text-anchor="end" fill="#222">Chemokine signaling pathway</text>
<circle cx="417.10" cy="1523.11" r="5.35" fill="#E8604C"/>
<line x1="267.00" y1="1523.11" x2="272.25" y2="1523.11" stroke="#3a3a3a" stroke-width="1"/>
<text x="265.00" y="1526.20" font-size="8.9" text-anchor="end" fill="#222">Hepatitis C</text>
<circle cx="493.00" cy="1541.12" r="3.45" fill="#E8604C"/>
<line x1="267.00" y1="1541.12" x2="272.25" y2="1541.12" stroke="#3a3a3a" stroke-width="1"/>
<text x="265.00" y="1544.21" font-size="8.9" text-anchor="end" fill="#222">Legionellosis</text>
<circle cx="407.00" cy="1559.12" r="5.00" fill="#E8604C"/>
<line x1="267.00" y1="1559.12" x2="272.25" y2="1559.12" stroke="#3a3a3a" stroke-width="1"/>
<text x="265.00" y="1562.22" font-size="8.9" text-anchor="end" fill="#222">JAK-STAT signaling pathway</text>
<circle cx="390.30" cy="1577.13" r="5.55" fill="#E8604C"/>
<line x1="267.00" y1="1577.13" x2="272.25" y2="1577.13" stroke="#3a3a3a" stroke-width="1"/>
<text x="265.00" y="1580.23" font-size="8.9" text-anchor="end" fill="#222">Kaposi sarcoma-associated herpesvirus infec...</text>
<circle cx="385.50" cy="1595.14" r="5.55" fill="#E8604C"/>
<line x1="267.00" y1="1595.14" x2="272.25" y2="1595.14" stroke="#3a3a3a" stroke-width="1"/>
<text x="265.00" y="1598.24" font-size="8.9" text-anchor="end" fill="#222">Epstein-Barr virus infection</text>
<circle cx="452.40" cy="1613.15" r="3.45" fill="#E4624F"/>
<line x1="267.00" y1="1613.15" x2="272.25" y2="1613.15" stroke="#3a3a3a" stroke-width="1"/>
<text x="265.00" y="1616.25" font-size="8.9" text-anchor="end" fill="#222">Pertussis</text>
<circle cx="419.80" cy="1631.16" r="3.85" fill="#D86C61"/>
<line x1="267.00" y1="1631.16" x2="272.25" y2="1631.16" stroke="#3a3a3a" stroke-width="1"/>
<text x="265.00" y="1634.26" font-size="8.9" text-anchor="end" fill="#222">Insulin resistance</text>
<circle cx="400.60" cy="1649.17" r="4.20" fill="#CD7770"/>
<line x1="267.00" y1="1649.17" x2="272.25" y2="1649.17" stroke="#3a3a3a" stroke-width="1"/>
<text x="265.00" y="1652.27" font-size="8.9" text-anchor="end" fill="#222">Measles</text>
<circle cx="418.30" cy="1667.18" r="3.45" fill="#B98484"/>
<line x1="267.00" y1="1667.18" x2="272.25" y2="1667.18" stroke="#3a3a3a" stroke-width="1"/>
<text x="265.00" y="1670.28" font-size="8.9" text-anchor="end" fill="#222">Toll-like receptor signaling pathway</text>
<circle cx="442.40" cy="1685.20" r="2.30" fill="#4CBAD6"/>
<line x1="267.00" y1="1685.20" x2="272.25" y2="1685.20" stroke="#3a3a3a" stroke-width="1"/>
<text x="265.00" y="1688.30" font-size="8.9" text-anchor="end" fill="#222">Cytosolic DNA-sensing pathway</text>
<rect x="272.25" y="1334.0" width="317.45" height="360.20" fill="none" stroke="#6b6b6b" stroke-width="1.4"/>
<line x1="272.24" y1="1694.20" x2="272.24" y2="1698.40" stroke="#3a3a3a" stroke-width="1"/>
<text x="272.24" y="1706.70" font-size="8.2" text-anchor="middle" fill="#222">-0.02</text>
<line x1="301.10" y1="1694.20" x2="301.10" y2="1698.40" stroke="#3a3a3a" stroke-width="1"/>
<text x="301.10" y="1706.70" font-size="8.2" text-anchor="middle" fill="#222">0</text>
<line x1="329.96" y1="1694.20" x2="329.96" y2="1698.40" stroke="#3a3a3a" stroke-width="1"/>
<text x="329.96" y="1706.70" font-size="8.2" text-anchor="middle" fill="#222">0.02</text>
<line x1="358.82" y1="1694.20" x2="358.82" y2="1698.40" stroke="#3a3a3a" stroke-width="1"/>
<text x="358.82" y="1706.70" font-size="8.2" text-anchor="middle" fill="#222">0.04</text>
<line x1="387.68" y1="1694.20" x2="387.68" y2="1698.40" stroke="#3a3a3a" stroke-width="1"/>
<text x="387.68" y="1706.70" font-size="8.2" text-anchor="middle" fill="#222">0.06</text>
<line x1="416.54" y1="1694.20" x2="416.54" y2="1698.40" stroke="#3a3a3a" stroke-width="1"/>
<text x="416.54" y="1706.70" font-size="8.2" text-anchor="middle" fill="#222">0.08</text>
<line x1="445.40" y1="1694.20" x2="445.40" y2="1698.40" stroke="#3a3a3a" stroke-width="1"/>
<text x="445.40" y="1706.70" font-size="8.2" text-anchor="middle" fill="#222">0.1</text>
<line x1="474.26" y1="1694.20" x2="474.26" y2="1698.40" stroke="#3a3a3a" stroke-width="1"/>
<text x="474.26" y="1706.70" font-size="8.2" text-anchor="middle" fill="#222">0.12</text>
<line x1="503.12" y1="1694.20" x2="503.12" y2="1698.40" stroke="#3a3a3a" stroke-width="1"/>
<text x="503.12" y="1706.70" font-size="8.2" text-anchor="middle" fill="#222">0.14</text>
<line x1="531.98" y1="1694.20" x2="531.98" y2="1698.40" stroke="#3a3a3a" stroke-width="1"/>
<text x="531.98" y="1706.70" font-size="8.2" text-anchor="middle" fill="#222">0.16</text>
<line x1="560.84" y1="1694.20" x2="560.84" y2="1698.40" stroke="#3a3a3a" stroke-width="1"/>
<text x="560.84" y="1706.70" font-size="8.2" text-anchor="middle" fill="#222">0.18</text>
<line x1="589.70" y1="1694.20" x2="589.70" y2="1698.40" stroke="#3a3a3a" stroke-width="1"/>
<text x="589.70" y="1706.70" font-size="8.2" text-anchor="middle" fill="#222">0.2</text>
<text x="436.00" y="1318.70" font-size="13.2" text-anchor="middle" font-weight="bold" fill="#111">KEGG enrichment analysis</text>
<text x="68.60" y="1513.40" font-size="10.3" text-anchor="middle" font-weight="bold" fill="#111" transform="rotate(-90 68.60 1513.40)">KEGG pathway</text>
<text x="430.60" y="1719.80" font-size="10.2" text-anchor="middle" font-weight="bold" fill="#111">Rich Factor</text>
<text x="603.10" y="1408.00" font-size="8.8" font-weight="bold" fill="#111">Padjust</text>
<defs><linearGradient id="dbar" x1="0" y1="0" x2="0" y2="1"><stop offset="0" stop-color="#46B6D6"/><stop offset="0.42" stop-color="#8E8189"/><stop offset="1" stop-color="#E8432C"/></linearGradient></defs>
<rect x="606.20" y="1419.00" width="15.60" height="74.80" fill="url(#dbar)"/>
<line x1="621.80" y1="1422.30" x2="624.30" y2="1422.30" stroke="#666" stroke-width="0.8"/>
<text x="625.70" y="1425.20" font-size="8.1" fill="#222">0.00250</text>
<line x1="621.80" y1="1436.50" x2="624.30" y2="1436.50" stroke="#666" stroke-width="0.8"/>
<text x="625.70" y="1439.40" font-size="8.1" fill="#222">0.00200</text>
<line x1="621.80" y1="1450.90" x2="624.30" y2="1450.90" stroke="#666" stroke-width="0.8"/>
<text x="625.70" y="1453.80" font-size="8.1" fill="#222">0.00150</text>
<line x1="621.80" y1="1465.00" x2="624.30" y2="1465.00" stroke="#666" stroke-width="0.8"/>
<text x="625.70" y="1467.90" font-size="8.1" fill="#222">0.00100</text>
<line x1="621.80" y1="1479.30" x2="624.30" y2="1479.30" stroke="#666" stroke-width="0.8"/>
<text x="625.70" y="1482.20" font-size="8.1" fill="#222">0.000500</text>
<line x1="621.80" y1="1493.70" x2="624.30" y2="1493.70" stroke="#666" stroke-width="0.8"/>
<text x="625.70" y="1496.60" font-size="8.1" fill="#222">0.00</text>
<text x="603.10" y="1519.40" font-size="8.8" font-weight="bold" fill="#111">Number</text>
<circle cx="606.40" cy="1530.70" r="2.30" fill="#000"/>
<text x="619.60" y="1533.70" font-size="8.2" fill="#222">6</text>
<circle cx="606.40" cy="1544.70" r="4.40" fill="#000"/>
<text x="619.60" y="1547.70" font-size="8.2" fill="#222">11</text>
<circle cx="606.40" cy="1558.70" r="5.85" fill="#000"/>
<text x="619.60" y="1561.70" font-size="8.2" fill="#222">16</text>
<circle cx="606.40" cy="1575.80" r="7.00" fill="#000"/>
<text x="619.60" y="1578.80" font-size="8.2" fill="#222">21</text>
<rect x="652.10" y="749.90" width="546.10" height="273.00" fill="#E2EFD8"/>
<defs>
<radialGradient id="gold" cx="0.45" cy="0.42" r="0.62">
 <stop offset="0" stop-color="#FFE46A"/><stop offset="0.45" stop-color="#FFD42A"/>
 <stop offset="0.8" stop-color="#F8C41A"/><stop offset="1" stop-color="#EDB520"/>
</radialGradient>
<linearGradient id="goldlo" x1="0" y1="0" x2="0" y2="1">
 <stop offset="0" stop-color="#FFE47A" stop-opacity="0"/><stop offset="0.5" stop-color="#FFE27A" stop-opacity="0"/>
 <stop offset="0.72" stop-color="#FFE680" stop-opacity="0.75"/><stop offset="0.86" stop-color="#E8C65A" stop-opacity="0.85"/>
 <stop offset="1" stop-color="#84772A" stop-opacity="1"/>
</linearGradient>
<radialGradient id="hl" cx="0.5" cy="0.5" r="0.5">
 <stop offset="0" stop-color="#fff" stop-opacity="1"/><stop offset="0.45" stop-color="#fff" stop-opacity="0.9"/>
 <stop offset="1" stop-color="#fff" stop-opacity="0"/>
</radialGradient>
<radialGradient id="ins" cx="0.4" cy="0.35" r="0.7">
 <stop offset="0" stop-color="#C6E6B0"/><stop offset="0.5" stop-color="#8FCB78"/><stop offset="1" stop-color="#5E9E4C"/>
</radialGradient>
<linearGradient id="ga1" gradientUnits="userSpaceOnUse" x1="704" y1="798" x2="788" y2="808"><stop offset="0" stop-color="#FFFFFF" stop-opacity="0.35"/><stop offset="0.4" stop-color="#CDCDCD" stop-opacity="0.95"/><stop offset="1" stop-color="#5A5A5A"/></linearGradient><linearGradient id="ga2" gradientUnits="userSpaceOnUse" x1="938" y1="786" x2="818" y2="806"><stop offset="0" stop-color="#FFFFFF" stop-opacity="0.35"/><stop offset="0.4" stop-color="#CDCDCD" stop-opacity="0.95"/><stop offset="1" stop-color="#5A5A5A"/></linearGradient><linearGradient id="ga3" gradientUnits="userSpaceOnUse" x1="937" y1="897" x2="905" y2="952"><stop offset="0" stop-color="#FFFFFF" stop-opacity="0.35"/><stop offset="0.4" stop-color="#CDCDCD" stop-opacity="0.95"/><stop offset="1" stop-color="#5A5A5A"/></linearGradient><linearGradient id="ga4" gradientUnits="userSpaceOnUse" x1="955" y1="927" x2="1030" y2="898"><stop offset="0" stop-color="#FFFFFF" stop-opacity="0.35"/><stop offset="0.4" stop-color="#CDCDCD" stop-opacity="0.95"/><stop offset="1" stop-color="#5A5A5A"/></linearGradient><linearGradient id="ga5" gradientUnits="userSpaceOnUse" x1="1046" y1="945" x2="1132" y2="932"><stop offset="0" stop-color="#FFFFFF" stop-opacity="0.35"/><stop offset="0.4" stop-color="#CDCDCD" stop-opacity="0.95"/><stop offset="1" stop-color="#5A5A5A"/></linearGradient></defs>
<path d="M1040.80,876.70 C1039.00,874.00 1034.13,865.20 1030.00,860.50 C1025.87,855.80 1020.50,851.83 1016.00,848.50 C1011.50,845.17 1008.50,843.67 1003.00,840.50 C997.50,837.33 989.92,832.62 983.00,829.50 C976.08,826.38 968.67,823.78 961.50,821.80 C954.33,819.82 949.42,818.52 940.00,817.60 C930.58,816.68 917.92,815.73 905.00,816.30 C892.08,816.87 876.20,818.38 862.50,821.00 C848.80,823.62 834.05,828.00 822.80,832.00 C811.55,836.00 804.13,840.00 795.00,845.00 C785.87,850.00 774.67,857.17 768.00,862.00 C761.33,866.83 758.50,869.67 755.00,874.00 C751.50,878.33 748.83,883.67 747.00,888.00 C745.17,892.33 744.58,896.33 744.00,900.00 C743.42,903.67 743.33,906.33 743.50,910.00 C743.67,913.67 743.92,917.67 745.00,922.00 C746.08,926.33 747.83,931.33 750.00,936.00 C752.17,940.67 755.00,945.50 758.00,950.00 C761.00,954.50 764.33,958.83 768.00,963.00 C771.67,967.17 775.50,971.00 780.00,975.00 C784.50,979.00 789.17,983.17 795.00,987.00 C800.83,990.83 808.33,994.92 815.00,998.00 C821.67,1001.08 828.33,1003.42 835.00,1005.50 C841.67,1007.58 846.38,1009.28 855.00,1010.50 C863.62,1011.72 875.32,1013.05 886.70,1012.80 C898.08,1012.55 911.08,1011.13 923.30,1009.00 C935.52,1006.87 947.77,1004.25 960.00,1000.00 C972.23,995.75 986.00,989.33 996.70,983.50 C1007.40,977.67 1016.87,971.17 1024.20,965.00 C1031.53,958.83 1036.73,951.72 1040.70,946.50 C1044.67,941.28 1045.90,938.53 1048.00,933.70 C1050.10,928.87 1052.42,920.20 1053.30,917.50 Q1036,921 1026,913 Q1017,902 1022,889 Q1029,878 1040.8,876.7Z" fill="#FEE4D6" stroke="#F2F3FC" stroke-width="5" stroke-linejoin="round"/>
<path d="M1040.80,876.70 C1039.00,874.00 1034.13,865.20 1030.00,860.50 C1025.87,855.80 1020.50,851.83 1016.00,848.50 C1011.50,845.17 1008.50,843.67 1003.00,840.50 C997.50,837.33 989.92,832.62 983.00,829.50 C976.08,826.38 968.67,823.78 961.50,821.80 C954.33,819.82 949.42,818.52 940.00,817.60 C930.58,816.68 917.92,815.73 905.00,816.30 C892.08,816.87 876.20,818.38 862.50,821.00 C848.80,823.62 834.05,828.00 822.80,832.00 C811.55,836.00 804.13,840.00 795.00,845.00 C785.87,850.00 774.67,857.17 768.00,862.00 C761.33,866.83 758.50,869.67 755.00,874.00 C751.50,878.33 748.83,883.67 747.00,888.00 C745.17,892.33 744.58,896.33 744.00,900.00 C743.42,903.67 743.33,906.33 743.50,910.00 C743.67,913.67 743.92,917.67 745.00,922.00 C746.08,926.33 747.83,931.33 750.00,936.00 C752.17,940.67 755.00,945.50 758.00,950.00 C761.00,954.50 764.33,958.83 768.00,963.00 C771.67,967.17 775.50,971.00 780.00,975.00 C784.50,979.00 789.17,983.17 795.00,987.00 C800.83,990.83 808.33,994.92 815.00,998.00 C821.67,1001.08 828.33,1003.42 835.00,1005.50 C841.67,1007.58 846.38,1009.28 855.00,1010.50 C863.62,1011.72 875.32,1013.05 886.70,1012.80 C898.08,1012.55 911.08,1011.13 923.30,1009.00 C935.52,1006.87 947.77,1004.25 960.00,1000.00 C972.23,995.75 986.00,989.33 996.70,983.50 C1007.40,977.67 1016.87,971.17 1024.20,965.00 C1031.53,958.83 1036.73,951.72 1040.70,946.50 C1044.67,941.28 1045.90,938.53 1048.00,933.70 C1050.10,928.87 1052.42,920.20 1053.30,917.50 Q1036,921 1026,913 Q1017,902 1022,889 Q1029,878 1040.8,876.7Z" fill="none" stroke="#D4D7F2" stroke-width="2.2" stroke-linejoin="round"/>
<ellipse cx="919.5" cy="948.0" rx="94.0" ry="53.4" transform="rotate(-12.0 919.5 948.0)" fill="none" stroke="#59585A" stroke-width="2.8"/>
<line x1="894.34" y1="901.71" x2="893.03" y2="897.51" stroke="#FBEDE6" stroke-width="2.0"/>
<line x1="937.57" y1="894.48" x2="937.46" y2="890.08" stroke="#FBEDE6" stroke-width="2.0"/>
<line x1="965.27" y1="896.63" x2="966.11" y2="892.31" stroke="#FBEDE6" stroke-width="2.0"/>
<line x1="1006.67" y1="921.62" x2="1010.57" y2="919.60" stroke="#FBEDE6" stroke-width="2.0"/>
<line x1="999.55" y1="960.48" x2="1002.98" y2="963.24" stroke="#FBEDE6" stroke-width="2.0"/>
<line x1="943.59" y1="994.62" x2="944.87" y2="998.83" stroke="#FBEDE6" stroke-width="2.0"/>
<line x1="873.32" y1="999.29" x2="872.46" y2="1003.61" stroke="#FBEDE6" stroke-width="2.0"/>
<line x1="833.16" y1="975.87" x2="829.37" y2="978.10" stroke="#FBEDE6" stroke-width="2.0"/>
<line x1="838.59" y1="936.62" x2="835.10" y2="933.94" stroke="#FBEDE6" stroke-width="2.0"/>
<line x1="878.84" y1="992.90" x2="876.78" y2="989.97" stroke="#7A3FA8" stroke-width="2.2"/>
<line x1="876.78" y1="989.97" x2="874.73" y2="987.04" stroke="#7A3FA8" stroke-width="2.2"/>
<line x1="883.31" y1="989.34" x2="880.36" y2="985.79" stroke="#E02A2A" stroke-width="2.2"/>
<line x1="880.36" y1="985.79" x2="877.40" y2="982.24" stroke="#E02A2A" stroke-width="2.2"/>
<line x1="886.59" y1="984.96" x2="883.93" y2="981.62" stroke="#F4E426" stroke-width="2.2"/>
<line x1="883.93" y1="981.62" x2="881.27" y2="978.28" stroke="#F4E426" stroke-width="2.2"/>
<line x1="888.51" y1="980.31" x2="887.15" y2="977.86" stroke="#4FA84A" stroke-width="2.2"/>
<line x1="887.15" y1="977.86" x2="885.79" y2="975.42" stroke="#4FA84A" stroke-width="2.2"/>
<path d="M873.50,996.00 Q871.37,977.94 889.00,973.50" fill="none" stroke="#A9CCEB" stroke-width="1.8"/>
<path d="M873.50,996.00 Q891.13,991.56 889.00,973.50" fill="none" stroke="#66636A" stroke-width="2.1"/>
<line x1="894.85" y1="970.93" x2="896.12" y2="974.29" stroke="#7A3FA8" stroke-width="2.2"/>
<line x1="896.12" y1="974.29" x2="897.38" y2="977.66" stroke="#3F62C8" stroke-width="2.2"/>
<line x1="900.57" y1="969.32" x2="901.82" y2="973.78" stroke="#E02A2A" stroke-width="2.2"/>
<line x1="901.82" y1="973.78" x2="903.08" y2="978.24" stroke="#7A3FA8" stroke-width="2.2"/>
<line x1="906.27" y1="969.17" x2="907.53" y2="973.26" stroke="#F4E426" stroke-width="2.2"/>
<line x1="907.53" y1="973.26" x2="908.79" y2="977.36" stroke="#E02A2A" stroke-width="2.2"/>
<line x1="911.39" y1="970.28" x2="912.67" y2="972.80" stroke="#4FA84A" stroke-width="2.2"/>
<line x1="912.67" y1="972.80" x2="913.94" y2="975.32" stroke="#F4E426" stroke-width="2.2"/>
<path d="M889.00,973.50 Q903.12,985.65 917.50,973.80" fill="none" stroke="#A9CCEB" stroke-width="1.8"/>
<path d="M889.00,973.50 Q903.38,961.65 917.50,973.80" fill="none" stroke="#66636A" stroke-width="2.1"/>
<line x1="923.09" y1="970.91" x2="920.87" y2="967.77" stroke="#3F62C8" stroke-width="2.2"/>
<line x1="920.87" y1="967.77" x2="918.64" y2="964.64" stroke="#4FA84A" stroke-width="2.2"/>
<line x1="927.76" y1="967.50" x2="924.57" y2="963.67" stroke="#7A3FA8" stroke-width="2.2"/>
<line x1="924.57" y1="963.67" x2="921.39" y2="959.85" stroke="#7A3FA8" stroke-width="2.2"/>
<line x1="931.15" y1="963.17" x2="928.28" y2="959.58" stroke="#E02A2A" stroke-width="2.2"/>
<line x1="928.28" y1="959.58" x2="925.42" y2="955.98" stroke="#E02A2A" stroke-width="2.2"/>
<line x1="933.09" y1="958.49" x2="931.62" y2="955.89" stroke="#F4E426" stroke-width="2.2"/>
<line x1="931.62" y1="955.89" x2="930.14" y2="953.29" stroke="#F4E426" stroke-width="2.2"/>
<path d="M917.50,973.80 Q914.94,955.07 933.50,951.50" fill="none" stroke="#A9CCEB" stroke-width="1.8"/>
<path d="M917.50,973.80 Q936.06,970.23 933.50,951.50" fill="none" stroke="#66636A" stroke-width="2.1"/>
<line x1="939.67" y1="949.50" x2="940.22" y2="953.58" stroke="#4FA84A" stroke-width="2.2"/>
<line x1="940.22" y1="953.58" x2="940.78" y2="957.65" stroke="#4FA84A" stroke-width="2.2"/>
<line x1="945.52" y1="948.58" x2="945.84" y2="953.92" stroke="#7A3FA8" stroke-width="2.2"/>
<line x1="945.84" y1="953.92" x2="946.17" y2="959.25" stroke="#3F62C8" stroke-width="2.2"/>
<line x1="951.06" y1="949.34" x2="951.47" y2="954.25" stroke="#E02A2A" stroke-width="2.2"/>
<line x1="951.47" y1="954.25" x2="951.87" y2="959.17" stroke="#7A3FA8" stroke-width="2.2"/>
<line x1="955.79" y1="951.45" x2="956.52" y2="954.56" stroke="#F4E426" stroke-width="2.2"/>
<line x1="956.52" y1="954.56" x2="957.25" y2="957.67" stroke="#E02A2A" stroke-width="2.2"/>
<path d="M933.50,951.50 Q944.75,967.77 961.00,956.50" fill="none" stroke="#A9CCEB" stroke-width="1.8"/>
<path d="M933.50,951.50 Q949.75,940.23 961.00,956.50" fill="none" stroke="#66636A" stroke-width="2.1"/>
<line x1="966.62" y1="952.65" x2="964.21" y2="949.60" stroke="#4FA84A" stroke-width="2.2"/>
<line x1="964.21" y1="949.60" x2="961.79" y2="946.55" stroke="#F4E426" stroke-width="2.2"/>
<line x1="971.27" y1="948.37" x2="967.84" y2="944.72" stroke="#3F62C8" stroke-width="2.2"/>
<line x1="967.84" y1="944.72" x2="964.41" y2="941.07" stroke="#4FA84A" stroke-width="2.2"/>
<line x1="974.57" y1="943.29" x2="971.48" y2="939.84" stroke="#7A3FA8" stroke-width="2.2"/>
<line x1="971.48" y1="939.84" x2="968.38" y2="936.39" stroke="#7A3FA8" stroke-width="2.2"/>
<line x1="976.38" y1="938.02" x2="974.75" y2="935.45" stroke="#E02A2A" stroke-width="2.2"/>
<line x1="974.75" y1="935.45" x2="973.12" y2="932.87" stroke="#E02A2A" stroke-width="2.2"/>
<path d="M961.00,956.50 Q957.58,936.84 976.50,930.50" fill="none" stroke="#A9CCEB" stroke-width="1.8"/>
<path d="M961.00,956.50 Q979.92,950.16 976.50,930.50" fill="none" stroke="#66636A" stroke-width="2.1"/>
<path d="M976,933.5 Q986,939 997,944.5 Q985,941.5 975,936Z" fill="#9CC8EC" opacity="0.85"/>
<path d="M875,991 Q872,997 871,1000 Q875,997 878,992Z" fill="#8EC0E8" opacity="0.9"/>
<ellipse cx="881.2" cy="963.2" rx="19.3" ry="12.6" transform="rotate(-10 881.2 963.2)" fill="#BE8A06"/>
<path d="M704.00,798.80 L718.00,795.20 L735.00,793.60 L752.00,794.60 L767.00,798.00 L780.00,802.30 L788.30,804.60 L790.00,803.75 L785.00,813.20 L769.60,809.20 L774.20,807.50 L764.00,802.20 L750.00,798.60 L733.00,796.60 L717.00,797.20Z" fill="url(#ga1)"/>
<path d="M938.00,786.00 L920.00,783.60 L900.00,782.60 L880.00,783.40 L860.00,785.20 L843.30,788.60 L828.00,795.00 L817.50,800.80 L809.20,799.60 L819.60,812.10 L842.10,805.40 L835.00,804.20 L845.00,798.30 L860.00,791.60 L880.00,787.60 L900.00,786.00 L920.00,786.00Z" fill="url(#ga2)"/>
<path d="M936.70,896.50 L934.90,903.30 L933.50,912.00 L932.00,920.80 L925.00,932.50 L915.70,940.10 L909.80,943.00 L908.70,938.30 L899.30,952.90 L912.20,959.90 L913.30,954.70 L918.00,951.20 L925.00,944.20 L932.00,932.50 L936.10,918.00 L937.30,903.30Z" fill="url(#ga3)"/>
<path d="M952.50,930.00 L965.00,917.50 L981.70,905.80 L998.30,898.30 L1015.00,895.40 L1026.70,893.75 L1029.60,890.00 L1032.50,902.10 L1013.30,908.75 L1020.00,905.00 L1006.70,905.00 L990.00,907.50 L973.30,915.80 L960.80,923.30Z" fill="url(#ga4)"/>
<path d="M1046.40,944.40 L1067.50,944.60 L1095.00,942.10 L1113.40,935.70 L1116.10,932.90 L1111.10,930.40 L1130.80,926.10 L1137.20,937.50 L1130.80,936.60 L1118.00,943.00 L1095.00,947.20 L1067.50,946.90Z" fill="url(#ga5)"/>
<path d="M780.3,832.6 C790,837.5 801,837 806,829.5 C809,825 810.5,820 811.2,816.3" fill="none" stroke="#7A8EB6" stroke-width="4.4" stroke-linecap="butt"/>
<line x1="796.5" y1="834.8" x2="809.89" y2="850.53" stroke="#7A8EB6" stroke-width="5"/>
<line x1="809.89" y1="850.53" x2="816.29" y2="858.06" stroke="#111" stroke-width="2"/>
<line x1="816.29" y1="858.06" x2="825.6" y2="869.0" stroke="#7A8EB6" stroke-width="5"/>
<line x1="809.5" y1="826.0" x2="824.35" y2="843.88" stroke="#7A8EB6" stroke-width="5"/>
<line x1="824.35" y1="843.88" x2="831.01" y2="851.91" stroke="#111" stroke-width="2"/>
<line x1="831.01" y1="851.91" x2="839.8" y2="862.5" stroke="#7A8EB6" stroke-width="5"/>
<ellipse cx="679.80" cy="800.50" rx="11.40" ry="9.10" fill="#F7F5C6" opacity="0.8"/>
<ellipse cx="679.80" cy="800.50" rx="10.20" ry="7.90" fill="url(#gold)"/>
<ellipse cx="679.80" cy="800.50" rx="10.20" ry="7.90" fill="url(#goldlo)"/>
<ellipse cx="677.35" cy="798.60" rx="3.06" ry="2.84" fill="url(#hl)"/>
<ellipse cx="708.40" cy="813.00" rx="11.40" ry="9.10" fill="#F7F5C6" opacity="0.8"/>
<ellipse cx="708.40" cy="813.00" rx="10.20" ry="7.90" fill="url(#gold)"/>
<ellipse cx="708.40" cy="813.00" rx="10.20" ry="7.90" fill="url(#goldlo)"/>
<ellipse cx="705.95" cy="811.10" rx="3.06" ry="2.84" fill="url(#hl)"/>
<ellipse cx="682.70" cy="822.80" rx="11.40" ry="9.10" fill="#F7F5C6" opacity="0.8"/>
<ellipse cx="682.70" cy="822.80" rx="10.20" ry="7.90" fill="url(#gold)"/>
<ellipse cx="682.70" cy="822.80" rx="10.20" ry="7.90" fill="url(#goldlo)"/>
<ellipse cx="680.25" cy="820.90" rx="3.06" ry="2.84" fill="url(#hl)"/>
<ellipse cx="794.00" cy="823.00" rx="11.40" ry="9.10" fill="#F7F5C6" opacity="0.8"/>
<ellipse cx="794.00" cy="823.00" rx="10.20" ry="7.90" fill="url(#gold)"/>
<ellipse cx="794.00" cy="823.00" rx="10.20" ry="7.90" fill="url(#goldlo)"/>
<ellipse cx="791.55" cy="821.10" rx="3.06" ry="2.84" fill="url(#hl)"/>
<ellipse cx="974.40" cy="799.00" rx="11.40" ry="9.10" fill="#F7F5C6" opacity="0.8"/>
<ellipse cx="974.40" cy="799.00" rx="10.20" ry="7.90" fill="url(#gold)"/>
<ellipse cx="974.40" cy="799.00" rx="10.20" ry="7.90" fill="url(#goldlo)"/>
<ellipse cx="971.95" cy="797.10" rx="3.06" ry="2.84" fill="url(#hl)"/>
<ellipse cx="1037.80" cy="824.80" rx="11.40" ry="9.10" fill="#F7F5C6" opacity="0.8"/>
<ellipse cx="1037.80" cy="824.80" rx="10.20" ry="7.90" fill="url(#gold)"/>
<ellipse cx="1037.80" cy="824.80" rx="10.20" ry="7.90" fill="url(#goldlo)"/>
<ellipse cx="1035.35" cy="822.90" rx="3.06" ry="2.84" fill="url(#hl)"/>
<ellipse cx="1069.00" cy="877.50" rx="11.40" ry="9.10" fill="#F7F5C6" opacity="0.8"/>
<ellipse cx="1069.00" cy="877.50" rx="10.20" ry="7.90" fill="url(#gold)"/>
<ellipse cx="1069.00" cy="877.50" rx="10.20" ry="7.90" fill="url(#goldlo)"/>
<ellipse cx="1066.55" cy="875.60" rx="3.06" ry="2.84" fill="url(#hl)"/>
<ellipse cx="1049.70" cy="903.30" rx="11.40" ry="9.10" fill="#F7F5C6" opacity="0.8"/>
<ellipse cx="1049.70" cy="903.30" rx="10.20" ry="7.90" fill="url(#gold)"/>
<ellipse cx="1049.70" cy="903.30" rx="10.20" ry="7.90" fill="url(#goldlo)"/>
<ellipse cx="1047.25" cy="901.40" rx="3.06" ry="2.84" fill="url(#hl)"/>
<ellipse cx="1109.90" cy="868.50" rx="4.4" ry="3.3" fill="url(#ins)"/>
<ellipse cx="1129.60" cy="870.60" rx="4.4" ry="3.3" fill="url(#ins)"/>
<ellipse cx="1160.40" cy="871.10" rx="4.4" ry="3.3" fill="url(#ins)"/>
<ellipse cx="1130.90" cy="881.40" rx="4.4" ry="3.3" fill="url(#ins)"/>
<ellipse cx="1150.30" cy="884.00" rx="4.4" ry="3.3" fill="url(#ins)"/>
<ellipse cx="1102.30" cy="887.80" rx="4.4" ry="3.3" fill="url(#ins)"/>
<ellipse cx="1122.80" cy="887.80" rx="4.4" ry="3.3" fill="url(#ins)"/>
<ellipse cx="1142.50" cy="890.80" rx="4.4" ry="3.3" fill="url(#ins)"/>
<ellipse cx="1173.30" cy="891.50" rx="4.4" ry="3.3" fill="url(#ins)"/>
<ellipse cx="1107.70" cy="899.00" rx="4.4" ry="3.3" fill="url(#ins)"/>
<ellipse cx="1137.20" cy="900.10" rx="4.4" ry="3.3" fill="url(#ins)"/>
<ellipse cx="1163.60" cy="904.80" rx="4.4" ry="3.3" fill="url(#ins)"/>
<ellipse cx="1127.10" cy="913.40" rx="4.4" ry="3.3" fill="url(#ins)"/>
<path d="M832.3,866.4 L832.5,873.5 Q833.5,878 840,879.9 Q848,881.8 857,882.7" fill="none" stroke="#635B57" stroke-width="2.8"/>
<path d="M863.4,883.1 L856.2,879.6 L856.0,886.2Z" fill="#635B57"/>
<path d="M887.3,870.2 L887.5,861.7 Q888.2,852 891.5,845 Q895,838.5 900,836 Q906,834.6 912.5,838" fill="none" stroke="#635B57" stroke-width="2.4"/>
<path d="M916.8,836.2 L918.9,842.6 L911.3,839.7Z" fill="#635B57"/>
<rect x="866.20" y="875.80" width="41.80" height="14.40" fill="#CBCACA"/>
<rect x="907.30" y="847.60" width="46.40" height="14.80" fill="#CBCACA"/>
<text x="877.00" y="886.00" font-size="8.3" font-weight="bold" fill="#1E1E1E" textLength="20.60" lengthAdjust="spacingAndGlyphs">JAK</text>
<text x="917.70" y="857.80" font-size="8.3" font-weight="bold" fill="#1E1E1E" textLength="25.60" lengthAdjust="spacingAndGlyphs">STAT</text>
<text x="698.30" y="836.90" font-size="8.6" font-weight="bold" fill="#1E1E1E" textLength="21.40" lengthAdjust="spacingAndGlyphs">BTC</text>
<text x="1059.50" y="896.90" font-size="8.6" font-weight="bold" fill="#1E1E1E" textLength="20.80" lengthAdjust="spacingAndGlyphs">BTC</text>
<text x="763.60" y="851.20" font-size="8.6" font-weight="bold" fill="#1E1E1E" textLength="20.20" lengthAdjust="spacingAndGlyphs">Egfr</text>
<text x="763.60" y="861.00" font-size="8.6" font-weight="bold" fill="#1E1E1E" textLength="40.80" lengthAdjust="spacingAndGlyphs">receptor</text>
<text x="795.00" y="900.60" font-size="5.6" fill="#444" textLength="90.40" lengthAdjust="spacingAndGlyphs">JAK-STAT Signaling Pathway</text>
<text x="991.80" y="802.30" font-size="10.8" font-weight="bold" fill="#1E1E1E" textLength="65.60" lengthAdjust="spacingAndGlyphs">Autocrine</text>
<text x="991.80" y="816.30" font-size="10.8" font-weight="bold" fill="#1E1E1E" textLength="36.40" lengthAdjust="spacingAndGlyphs">mode</text>
<text x="1097.80" y="834.90" font-size="9.0" font-weight="bold" fill="#1E1E1E" textLength="81.40" lengthAdjust="spacingAndGlyphs">Promoting cell</text>
<text x="1097.80" y="846.30" font-size="9.0" font-weight="bold" fill="#1E1E1E" textLength="92.80" lengthAdjust="spacingAndGlyphs">function(Secrete</text>
<text x="1097.80" y="857.10" font-size="9.0" font-weight="bold" fill="#1E1E1E" textLength="74.60" lengthAdjust="spacingAndGlyphs">more insulin)</text>
<text x="1152.20" y="919.40" font-size="8.8" font-weight="bold" fill="#1E1E1E" textLength="33.60" lengthAdjust="spacingAndGlyphs">Insulin</text>
<text x="1005.80" y="998.70" font-size="13.0" font-weight="bold" fill="#1E1E1E" textLength="82.00" lengthAdjust="spacingAndGlyphs">MIN6 Cells</text>
</svg>
</body></html>
